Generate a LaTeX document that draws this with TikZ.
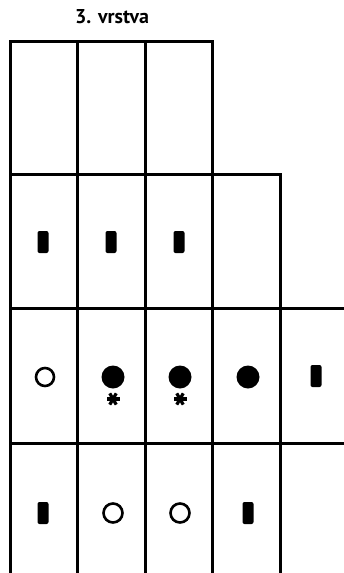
\documentclass[tikz,border=0pt]{standalone}
\usepackage{fontspec}
\setmainfont{PT Sans}
\begin{document}
\begin{tikzpicture}[x=1pt,y=-1pt,
  grid/.style={line width=3pt,line cap=rect},
  barsym/.style={fill=black,rounded corners=2pt},
  opencirc/.style={draw=black,line width=2.6pt,fill=white},
  fullcirc/.style={fill=black},
  astsym/.style={line width=3.2pt}]
\useasboundingbox (0,0) rectangle (344,573);
% title
\node[font=\bfseries\fontsize{20}{24}\selectfont] (title) at (112,17) {3. vrstva};
% horizontal lines
\draw[grid] (10,41) -- (212,41);
\draw[grid] (10,174) -- (280,174);
\draw[grid] (10,308) -- (344,308);
\draw[grid] (10,443) -- (344,443);
% vertical lines
\foreach \x in {10,77,145,212} \draw[grid,line cap=butt] (\x,41) -- (\x,573);
\draw[grid,line cap=butt] (280,174) -- (280,573);
% row 2 bars
\foreach \x in {43,111,179} \fill[barsym] (\x-5.5,231) rectangle (\x+5.5,253);
% row 3
\draw[opencirc] (45,377) circle (9);
\foreach \x in {113,180,248} \fill[fullcirc] (\x,377) circle (11.5);
\fill[barsym] (310.5,365) rectangle (321.5,387);
\foreach \x in {113,180} {
  \foreach \a in {0,60,120} \draw[astsym] (\x,399) ++(\a:6.5) -- ++(\a+180:13);
}
% row 4
\foreach \x in {43,248} \fill[barsym] (\x-5.5,502) rectangle (\x+5.5,524);
\foreach \x in {113,180} \draw[opencirc] (\x,513) circle (9.5);
\end{tikzpicture}
\end{document}
